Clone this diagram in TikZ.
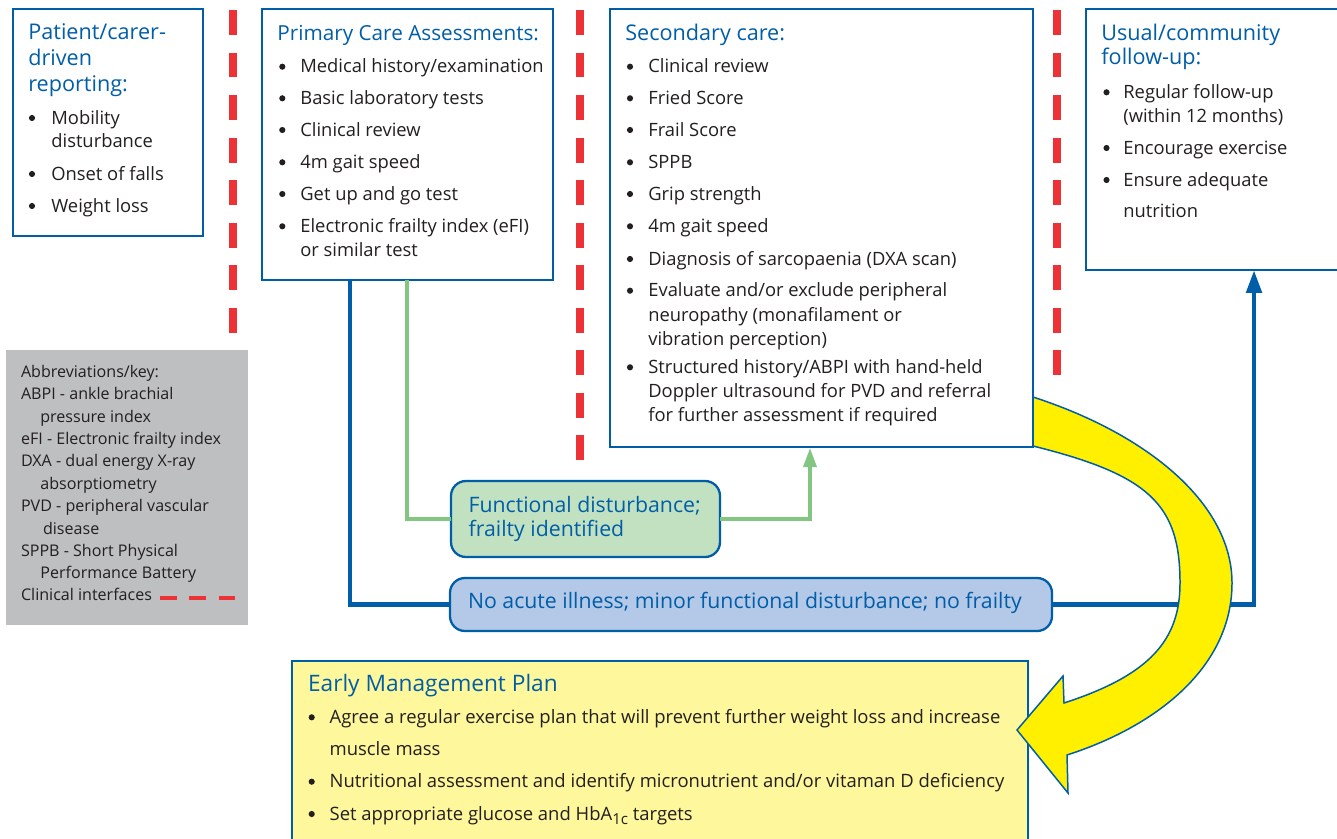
\documentclass[tikz,border=0pt]{standalone}
\usepackage{fontspec}
\setmainfont{Open Sans}
\usetikzlibrary{arrows.meta}
\definecolor{nhsblue}{RGB}{0,94,168}
\definecolor{txt}{RGB}{35,31,32}
\definecolor{dashred}{RGB}{237,50,55}
\definecolor{gline}{RGB}{130,198,130}
\definecolor{gfill}{RGB}{193,225,193}
\definecolor{bfill}{RGB}{180,200,232}
\definecolor{keygray}{RGB}{190,191,193}
\definecolor{planfill}{RGB}{255,247,155}
\definecolor{arrowyellow}{RGB}{255,240,0}
\newcounter{tlnum}
\newcommand{\tx}[4][]{\stepcounter{tlnum}\node[txtline,#1] (t\thetlnum) at (#2,#3) {#4};}
\newcommand{\bitem}[5][]{\stepcounter{tlnum}\node[bulletdot] (t\thetlnum) at (#2,#4-6) {};\tx[#1]{#3}{#4}{#5}}
\newcommand{\bx}[6][]{\node[boxst,#1,minimum width={(#4-#2)*0.02cm},minimum height={(#5-#3)*0.02cm}] (#6) at (#2,#3) {};}
\begin{document}
\begin{tikzpicture}[x=0.02cm,y=-0.02cm,
  txtline/.style={anchor=base west,inner sep=0pt,text=txt,font=\fontsize{10.45}{12}\selectfont},
  bulletdot/.style={circle,fill=txt,inner sep=0pt,minimum size=3.5pt},
  headtxt/.style={text=nhsblue,font=\fontsize{12.3}{14}\selectfont},
  pchead/.style={text=nhsblue,font=\fontsize{11.8}{14}\selectfont},
  abbr/.style={font=\fontsize{9.15}{11}\selectfont},
  plantxt/.style={font=\fontsize{10.5}{12}\selectfont},
  planhead/.style={text=nhsblue,font=\fontsize{12.9}{14}\selectfont},
  nodetxt/.style={text=nhsblue,font=\fontsize{12.1}{13}\selectfont},
  boxst/.style={draw=nhsblue,line width=1.5pt,fill=white,inner sep=0pt,outer sep=0pt,anchor=north west},
  roundst/.style={rounded corners=8.5pt,line width=1.3pt},
  redash/.style={draw=dashred,line width=4.15pt,dash pattern=on 14.2pt off 10pt},
  blueconn/.style={draw=nhsblue,line width=2.8pt},
  greenconn/.style={draw=gline,line width=2.8pt}]
\useasboundingbox (0,0) rectangle (1337,838);
% clinical interfaces
\draw[redash] (233,10) -- (233,334);
\draw[redash] (580,10) -- (580,462);
\draw[redash] (1057,10) -- (1057,377);
% boxes
\bx{13}{9}{203}{236}{pat}
\bx{262}{9}{553}{280}{pc}
\bx{610}{9}{1033}{447}{sc}
\bx{1086}{9}{1345}{270}{uf}
\bx[draw=none,fill=keygray]{6}{350}{248}{625}{key}
\bx[fill=planfill]{292}{661}{1028}{850}{plan}
\bx[roundst,fill=gfill]{451}{481}{720}{557}{fd}
\bx[roundst,fill=bfill]{450}{578}{1052}{631}{noac}
% connectors
\draw[blueconn] ([xshift=88*0.02cm]pc.south west) |- (noac.west);
\draw[blueconn,-{Triangle[length=13pt,width=8.5pt]}] (noac.east) -| ([xshift=168*0.02cm]uf.south west);
\draw[greenconn] ([xshift=145*0.02cm]pc.south west) |- (fd.west);
\draw[greenconn,-{Triangle[length=11.4pt,width=7pt]}] (fd.east) -| ([xshift=200*0.02cm]sc.south west);
% key dashes
\draw[draw=dashred,line width=2.8pt,dash pattern=on 9.5pt off 7.2pt] (160,598) -- (240,598);
% yellow arrow
\draw[fill=arrowyellow,draw=nhsblue,line width=0.85pt,line join=miter]
 (1033,397) .. controls (1150,435) and (1232,505) .. (1232,583)
 .. controls (1232,665) and (1160,725) .. (1067,755)
 -- (1068,793) -- (1017,730) -- (1063,676) -- (1064,703)
 .. controls (1150,675) and (1180,640) .. (1180,583)
 .. controls (1180,505) and (1150,475) .. (1033,446) -- cycle;
% box 1
\tx[headtxt]{28}{39.3}{Patient/carer-}
\tx[headtxt]{28}{65.7}{driven}
\tx[headtxt]{28}{91.7}{reporting:}
\bitem{32}{51}{124}{Mobility}
\tx{51}{147.3}{disturbance}
\bitem{32}{51}{180}{Onset of falls}
\bitem{32}{51}{212}{Weight loss}
% box 2
\tx[pchead]{277}{40.7}{Primary Care Assessments:}
\bitem{282.3}{300}{72.7}{Medical history/examination}
\bitem{282.3}{300}{104.3}{Basic laboratory tests}
\bitem{282.3}{300}{136}{Clinical review}
\bitem{282.3}{300}{168.3}{4m gait speed}
\bitem{282.3}{300}{200}{Get up and go test}
\bitem{282.3}{300}{232.3}{Electronic frailty index (eFI)}
\tx{300}{256}{or similar test}
% box 3
\tx[headtxt]{625}{40.7}{Secondary care:}
\bitem{630}{648}{72.7}{Clinical review}
\bitem{630}{648}{104.3}{Fried Score}
\bitem{630}{648}{136}{Frail Score}
\bitem{630}{648}{168.3}{SPPB}
\bitem{630}{648}{200}{Grip strength}
\bitem{630}{648}{232.3}{4m gait speed}
\bitem{630}{648}{265}{Diagnosis of sarcopaenia (DXA scan)}
\bitem{630}{648}{296.7}{Evaluate and/or exclude peripheral}
\tx{648}{321}{neuropathy (monafilament or}
\tx{648}{345}{vibration perception)}
\bitem{630}{648}{373.3}{Structured history/ABPI with hand-held}
\tx{648}{397.3}{Doppler ultrasound for PVD and referral}
\tx{648}{421.7}{for further assessment if required}
% box 4
\tx[headtxt]{1101}{40.7}{Usual/community}
\tx[headtxt]{1101}{65}{follow-up:}
\bitem{1106.5}{1123}{98.3}{Regular follow-up}
\tx{1123}{122.7}{(within 12 months)}
\bitem{1106.5}{1123}{154}{Encourage exercise}
\bitem{1106.5}{1123}{186}{Ensure adequate}
\tx{1123}{217.3}{nutrition}
% key
\tx[abbr]{20.7}{377.7}{Abbreviations/key:}
\tx[abbr]{20.7}{399.3}{ABPI - ankle brachial}
\tx[abbr]{40}{422.3}{pressure index}
\tx[abbr]{20.7}{444.3}{eFI - Electronic frailty index}
\tx[abbr]{20.7}{466.7}{DXA - dual energy X-ray}
\tx[abbr]{40}{489}{absorptiometry}
\tx[abbr]{20.7}{511.7}{PVD - peripheral vascular}
\tx[abbr]{42.7}{534}{disease}
\tx[abbr]{20.7}{556}{SPPB - Short Physical}
\tx[abbr]{40}{578.3}{Performance Battery}
\tx[abbr]{20.7}{600.7}{Clinical interfaces}
% decision nodes
\tx[nodetxt]{468.3}{512.3}{Functional disturbance;}
\tx[nodetxt]{468.3}{536}{frailty identified}
\tx[nodetxt]{467.7}{608.3}{No acute illness; minor functional disturbance; no frailty}
% plan
\tx[planhead]{307.7}{691.7}{Early Management Plan}
\bitem[plantxt]{311.7}{329.3}{723.3}{Agree a regular exercise plan that will prevent further weight loss and increase}
\tx[plantxt]{329.3}{755}{muscle mass}
\bitem[plantxt]{311.7}{329.3}{787.7}{Nutritional assessment and identify micronutrient and/or vitaman D deficiency}
\bitem[plantxt]{311.7}{329.3}{820}{Set appropriate glucose and HbA\raisebox{-2.6pt}{\fontsize{8.6}{9}\selectfont 1c} targets}
\end{tikzpicture}
\end{document}
